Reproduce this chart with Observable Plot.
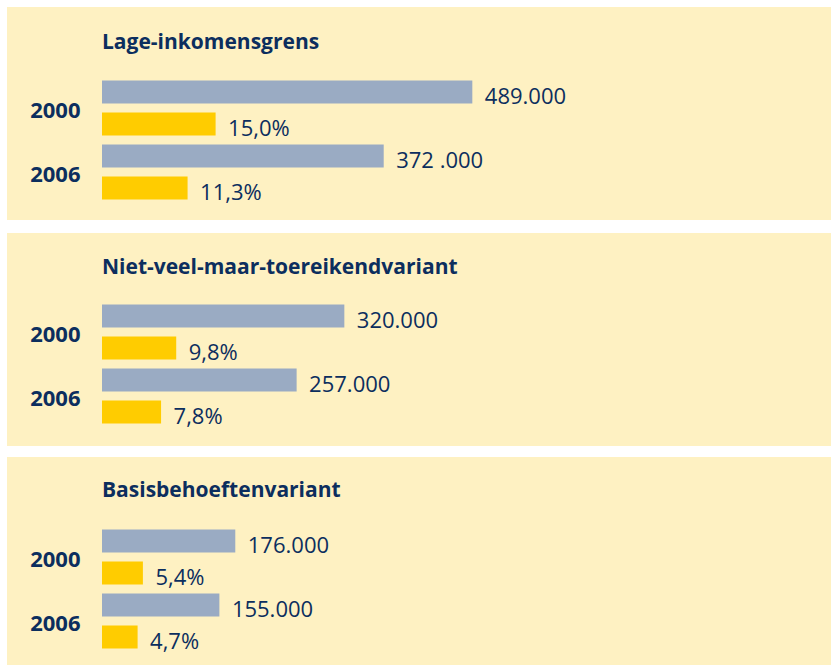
<!DOCTYPE html>
<html>
<head>
<meta charset="utf-8">
<script src="https://cdn.jsdelivr.net/npm/d3@7"></script>
<script src="https://cdn.jsdelivr.net/npm/@observablehq/plot@0.6"></script>
<style>
  html, body { margin: 0; padding: 0; background: #ffffff; }
  body { width: 831px; height: 665px; position: relative; overflow: hidden; font-family: "Open Sans", sans-serif; }
  .panel { position: absolute; left: 7px; width: 824px; background: #fef1c2; }
  .panel h2 { position: absolute; left: 95px; margin: 0; font-size: 21px; font-weight: 700; color: #0c2e5e; line-height: 1; white-space: nowrap; }
  .panel svg { position: absolute; left: 0; top: 0; background: transparent; }
</style>
</head>
<body>
<script>
// ---- data ----
const titles = ["Lage-inkomensgrens", "Niet-veel-maar-toereikendvariant", "Basisbehoeftenvariant"];
const years = ["2000", "2006"];
const counts = [[489000, 372000], [320000, 257000], [176000, 155000]];
const countLabels = [["489.000", "372 .000"], ["320.000", "257.000"], ["176.000", "155.000"]];
const percents = [[15.0, 11.3], [9.8, 7.8], [5.4, 4.7]];
const percentLabels = [["15,0%", "11,3%"], ["9,8%", "7,8%"], ["5,4%", "4,7%"]];

// percentages are drawn on their own visual scale in the original: 1 percentage point ≈ 10 thousand
const PCT_UNIT = 10;

// panel layout
const panelTops = [7, 233, 457];
const panelHeights = [213, 213, 208];
const titleTops = [24.4, 22.7, 21.7];
const plotTops = [68.5, 66.5, 67.5];
const NAVY = "#0c2e5e";

titles.forEach((title, i) => {
  const rows = [];
  years.forEach((year, j) => {
    rows.push({year, type: "count", x: counts[i][j] / 1000, label: countLabels[i][j]});
    rows.push({year, type: "pct", x: percents[i][j] * PCT_UNIT, label: percentLabels[i][j]});
  });

  const h = panelHeights[i];
  const div = document.createElement("div");
  div.className = "panel";
  div.style.top = panelTops[i] + "px";
  div.style.height = h + "px";
  const t = document.createElement("h2");
  t.textContent = title;
  t.style.top = titleTops[i] + "px";
  div.appendChild(t);

  const chart = Plot.plot({
    width: 824,
    height: h,
    marginLeft: 95,
    marginRight: 2,
    marginTop: plotTops[i],
    marginBottom: h - plotTops[i] - 128,
    style: {background: "transparent", fontFamily: "'Open Sans', sans-serif", color: NAVY, overflow: "visible"},
    facet: {data: rows, y: "year"},
    fy: {domain: years, padding: 0, axis: null},
    y: {domain: ["count", "pct"], paddingInner: 0.28, paddingOuter: 0.14, axis: null},
    x: {domain: [0, 960], axis: null},
    color: {domain: ["count", "pct"], range: ["#9aabc3", "#ffcc00"]},
    marks: [
      Plot.barX(rows, {x: "x", y: "type", fill: "type"}),
      Plot.text(rows, {x: "x", y: "type", text: "label", textAnchor: "start", dx: 12, dy: 4, fontSize: 22, fill: NAVY}),
      Plot.text(rows, {filter: d => d.type === "count", text: "year", frameAnchor: "left", textAnchor: "end", dx: -22, dy: 2, fontSize: 22, fontWeight: "bold", fill: NAVY})
    ]
  });
  div.appendChild(chart);
  document.body.appendChild(div);
});
</script>
</body>
</html>
